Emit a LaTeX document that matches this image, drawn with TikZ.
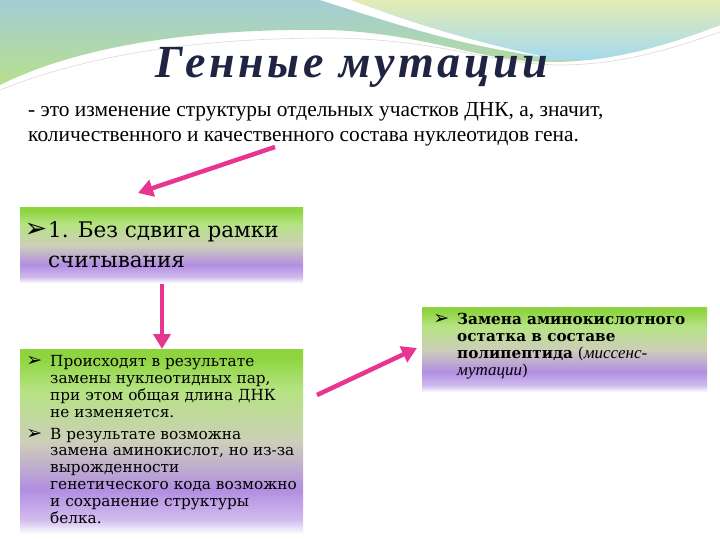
\documentclass[tikz,border=0pt]{standalone}
\usepackage{fontspec}
\setmainfont{Liberation Serif}
\newfontfamily\boxfont{DejaVu Serif}
\newfontfamily\titlefont{Liberation Serif}[LetterSpace=8]
\newfontfamily\symfont{DejaVu Sans}
\usetikzlibrary{arrows.meta}
\definecolor{pinkarr}{HTML}{E8358F}
\definecolor{boxgreen}{HTML}{8DD43E}
\definecolor{boxpurple}{HTML}{B28EE2}
\definecolor{boxmid}{HTML}{CDCFB8}
\definecolor{titlecol}{HTML}{1E2442}
\definecolor{teal1}{HTML}{A3CDD6}
\definecolor{green1}{HTML}{B8E08A}
\definecolor{paleY}{HTML}{E3ECB5}
\definecolor{lblue}{HTML}{A5D9EE}
\pgfdeclareverticalshading{boxshade}{100bp}{color(0bp)=(white); color(25bp)=(white); color(29bp)=(boxpurple!60!white); color(37bp)=(boxpurple); color(50bp)=(boxmid); color(64bp)=(boxgreen!65!white); color(73bp)=(boxgreen); color(100bp)=(boxgreen)}
\newcommand{\bulA}{\llap{{\symfont\fontsize{19}{19}\selectfont ➢}\hspace{8pt}}}
\tikzset{
  gbox/.style={shading=boxshade, draw=none, inner sep=0pt},
  parr/.style={draw=pinkarr, line width=4.5pt, -{Triangle[length=15pt,width=17pt]}},
  txt/.style={inner sep=0pt, align=left, anchor=base west}
}
\begin{document}
\begin{tikzpicture}[x=1pt,y=-1pt]
\useasboundingbox (0,0) rectangle (720,540);
\fill[white] (0,0) rectangle (720,540);
% decorative top band
\begin{scope}
\clip (0,0) -- (720,0) -- (720,25) .. controls (680,40) and (620,62) .. (550,62) .. controls (480,62) and (430,34) .. (330,30) .. controls (200,28) and (80,45) .. (0,85) -- cycle;
\shade[top color=teal1, bottom color=green1] (0,0) rectangle (720,88);
\shade[top color=paleY, bottom color=lblue] (345,0) .. controls (410,20) and (465,40) .. (545,60) -- (720,60) -- (720,0) -- cycle;
\fill[white] (350,0) .. controls (410,22) and (465,40) .. (545,57) .. controls (455,45) and (390,22) .. (320,0) -- cycle;
\end{scope}
\draw[white!70!gray, line width=0.6pt] (0,90) .. controls (90,54) and (200,38) .. (330,38) .. controls (440,39) and (490,64) .. (560,65) .. controls (630,65) and (690,42) .. (720,32);
% title
\node[txt, text=titlecol, font=\fontsize{46}{50}\titlefont\bfseries\itshape] (title) at (155,78) {Генные мутации};
% definition (base anchor = last line)
\node[txt, font=\fontsize{21.4}{25}\selectfont] (def) at (28,142) {- это изменение структуры отдельных участков ДНК, а, значит,\\количественного и качественного состава нуклеотидов гена.};
% boxes
\node[gbox, minimum width=283pt, minimum height=76pt, anchor=north west] (b1) at (20,207) {};
\node[gbox, minimum width=283pt, minimum height=185pt, anchor=north west] (b2) at (20,349) {};
\node[gbox, minimum width=285pt, minimum height=85pt, anchor=north west] (b3) at (422,307) {};
% box texts (base anchor = last line)
\node[txt, font=\fontsize{21.5}{30}\boxfont] (t1) at (48,267) {\llap{{\symfont\fontsize{27}{27}\selectfont ➢}\hspace{1pt}}1. Без сдвига рамки\\считывания};
\node[txt, font=\fontsize{15.3}{16.8}\boxfont] (t2a) at (50,417) {\bulA Происходят в результате\\замены нуклеотидных пар,\\при этом общая длина ДНК\\не изменяется.};
\node[txt, font=\fontsize{15.3}{16.8}\boxfont] (t2b) at (50,523) {\bulA В результате возможна\\замена аминокислот, но из-за\\вырожденности\\генетического кода возможно\\и сохранение структуры\\белка.};
\node[txt, font=\fontsize{15.2}{16.7}\boxfont] (t3) at (457,375) {\bulA\textbf{Замена аминокислотного}\\\textbf{остатка в составе}\\\textbf{полипептида} ({\fontspec{Liberation Serif}\itshape\fontsize{17}{16.7}\selectfont миссенс-}\\{\fontspec{Liberation Serif}\itshape\fontsize{17}{16.7}\selectfont мутации})};
% arrows
\coordinate (a1s) at (275,147);
\coordinate (a1e) at (138,193);
\coordinate (a2s) at (162,284);
\coordinate (a3s) at (317,395);
\coordinate (a3e) at (417,348);
\draw[parr] (a1s) -- (a1e);
\draw[parr] (a2s) -- (a2s |- b2.north);
\draw[parr] (a3s) -- (a3e);
\end{tikzpicture}
\end{document}
